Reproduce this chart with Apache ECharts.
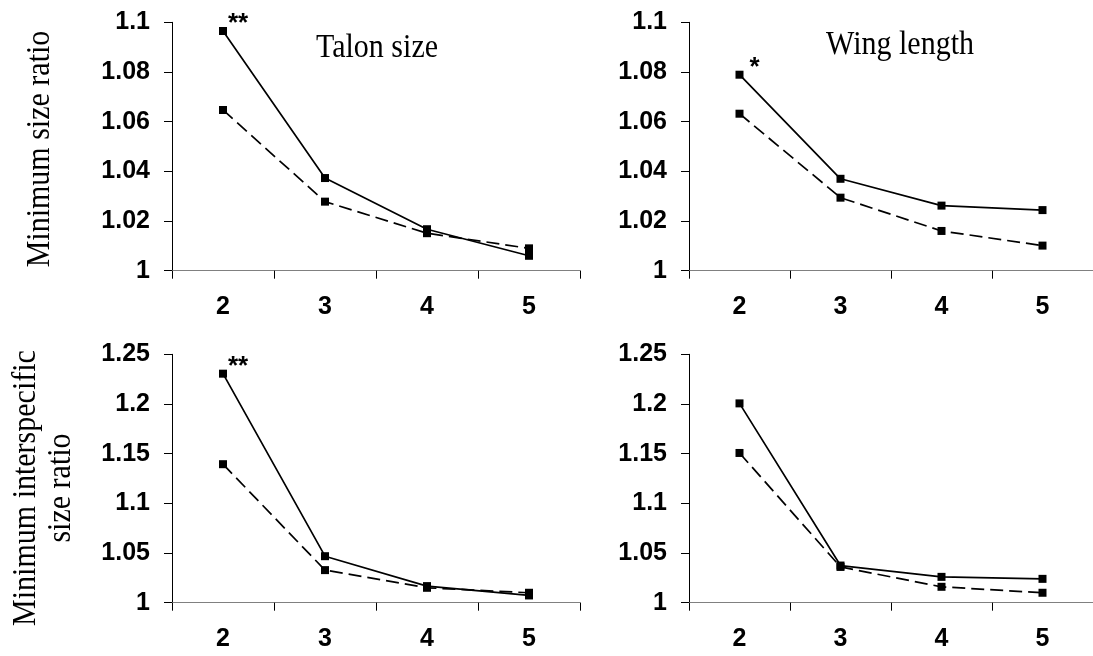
<!DOCTYPE html>
<html>
<head>
<meta charset="utf-8">
<script src="https://cdn.jsdelivr.net/npm/echarts@6/dist/echarts.min.js"></script>
<style>
html,body{margin:0;padding:0;background:#fff;}
#chart{width:1093px;height:656px;}
</style>
</head>
<body>
<div id="chart"></div>
<script>
// ---- data ----
const categories = ['2', '3', '4', '5'];

const talonRatioSolid  = [1.0965, 1.0373, 1.0167, 1.0060];
const talonRatioDashed = [1.0647, 1.0278, 1.0151, 1.0090];
const wingRatioSolid   = [1.0789, 1.0370, 1.0262, 1.0244];
const wingRatioDashed  = [1.0632, 1.0294, 1.0160, 1.0101];

const talonInterSolid  = [1.2305, 1.0468, 1.0167, 1.0073];
const talonInterDashed = [1.1394, 1.0328, 1.0150, 1.0100];
const wingInterSolid   = [1.2006, 1.0374, 1.0260, 1.0240];
const wingInterDashed  = [1.1507, 1.0360, 1.0160, 1.0100];

const talonRatioSig = ['**', '', '', ''];
const wingRatioSig  = ['*', '', '', ''];
const talonInterSig = ['**', '', '', ''];
const wingInterSig  = ['', '', '', ''];

const topTicks    = [1, 1.02, 1.04, 1.06, 1.08, 1.1];
const bottomTicks = [1, 1.05, 1.1, 1.15, 1.2, 1.25];

const panelTitles = ['Talon size', 'Wing length'];
const yTitleTop = 'Minimum size ratio';
const yTitleBottom = ['Minimum interspecific', 'size ratio'];

// ---- layout ----
const grids = [
  {left: 172, top: 22.3, width: 408, height: 248.4},
  {left: 689, top: 22.3, width: 407, height: 248.4},
  {left: 172, top: 354.3, width: 408, height: 248.4},
  {left: 689, top: 354.3, width: 407, height: 248.4}
];
const panels = [
  {solid: talonRatioSolid, dashed: talonRatioDashed, sig: talonRatioSig, ticks: topTicks},
  {solid: wingRatioSolid, dashed: wingRatioDashed, sig: wingRatioSig, ticks: topTicks},
  {solid: talonInterSolid, dashed: talonInterDashed, sig: talonInterSig, ticks: bottomTicks},
  {solid: wingInterSolid, dashed: wingInterDashed, sig: wingInterSig, ticks: bottomTicks}
];

const sansBold = {fontFamily: '"Liberation Sans", Arial, sans-serif', fontWeight: 'bold', fontSize: 25, color: '#000'};
const serif = '"Liberation Serif", "Times New Roman", serif';
const serifScaleY = 1.12;

const xAxes = [], yAxes = [], series = [];
panels.forEach((p, i) => {
  const t = p.ticks;
  const interval = +(t[1] - t[0]).toFixed(4);
  xAxes.push({
    type: 'category', gridIndex: i, data: categories, boundaryGap: true,
    axisLine: {lineStyle: {color: '#808080', width: 1.2}},
    axisTick: {show: true, length: 8, inside: false, lineStyle: {color: '#000', width: 1}},
    axisLabel: Object.assign({margin: 24}, sansBold),
    splitLine: {show: false}
  });
  yAxes.push({
    type: 'value', gridIndex: i, min: t[0], max: t[t.length - 1], interval: interval,
    axisLine: {show: true, lineStyle: {color: '#000', width: 1}},
    axisTick: {show: true, length: 8, inside: false, lineStyle: {color: '#000', width: 1}},
    axisLabel: Object.assign({margin: 22}, sansBold),
    splitLine: {show: false}
  });
  series.push({
    type: 'line', xAxisIndex: i, yAxisIndex: i, data: p.solid,
    symbol: 'rect', symbolSize: 8, showAllSymbol: true,
    lineStyle: {color: '#000', width: 1.7, type: 'solid'},
    itemStyle: {color: '#000'},
    label: {
      show: true,
      formatter: (prm) => p.sig[prm.dataIndex],
      position: [19, -3], align: 'center', verticalAlign: 'middle',
      fontFamily: '"Liberation Sans", Arial, sans-serif', fontWeight: 'bold', fontSize: 26, color: '#000'
    },
    emphasis: {disabled: true}, animation: false, z: 3
  });
  series.push({
    type: 'line', xAxisIndex: i, yAxisIndex: i, data: p.dashed,
    symbol: 'rect', symbolSize: 8, showAllSymbol: true,
    lineStyle: {color: '#000', width: 1.7, type: [13, 6]},
    itemStyle: {color: '#000'},
    emphasis: {disabled: true}, animation: false, z: 2
  });
});

function serifText(text, x, y, rotated) {
  return {
    type: 'text', x: x, y: y, rotation: rotated ? Math.PI / 2 : 0, scaleY: serifScaleY,
    style: {text: text, font: '30px ' + serif, fill: '#000', textAlign: 'center', textVerticalAlign: 'middle'}
  };
}

const graphic = [
  serifText(panelTitles[0], 377, 48, false),
  serifText(panelTitles[1], 900, 45, false),
  serifText(yTitleTop, 40, 149, true),
  serifText(yTitleBottom[0], 26, 488, true),
  serifText(yTitleBottom[1], 61, 488, true)
];

const chart = echarts.init(document.getElementById('chart'), null, {renderer: 'canvas'});
chart.setOption({
  backgroundColor: '#fff',
  animation: false,
  grid: grids,
  xAxis: xAxes,
  yAxis: yAxes,
  series: series,
  graphic: graphic
});
</script>
</body>
</html>
